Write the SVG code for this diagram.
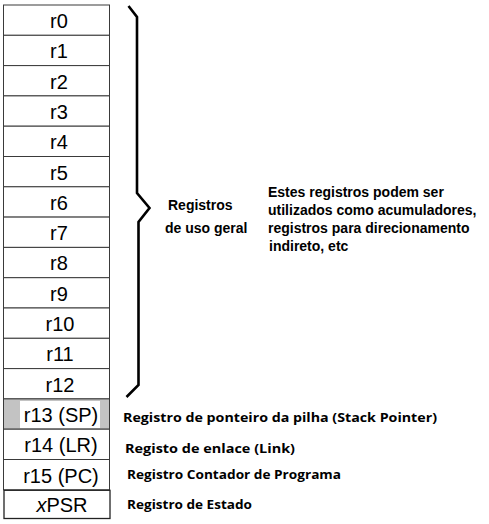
<svg xmlns="http://www.w3.org/2000/svg" width="489" height="524" viewBox="0 0 489 524">
<style>
.reg{fill:#ffffff;stroke:#3a3a3a;stroke-width:1}
.rt{font-family:"Liberation Sans",Arial,sans-serif;font-size:20px;fill:#000;text-anchor:middle}
.lb{font-family:"Liberation Sans",Arial,sans-serif;font-size:14px;font-weight:bold;fill:#000}
.lb2{font-family:"Open Sans","Noto Sans",sans-serif;font-size:13px;font-weight:bold;fill:#000}
.brace{fill:none;stroke:#000;stroke-width:2.6;stroke-linejoin:miter}
</style>
<rect width="489" height="524" fill="#ffffff"/>
<g id="registers">
<g id="r0"><rect class="reg" x="3.5" y="5" width="106" height="30.3"/><text class="rt" x="59" y="28">r0</text></g>
<g id="r1"><rect class="reg" x="3.5" y="35.3" width="106" height="30.3"/><text class="rt" x="59" y="58.3">r1</text></g>
<g id="r2"><rect class="reg" x="3.5" y="65.6" width="106" height="30.3"/><text class="rt" x="59" y="88.6">r2</text></g>
<g id="r3"><rect class="reg" x="3.5" y="95.9" width="106" height="30.3"/><text class="rt" x="59" y="118.9">r3</text></g>
<g id="r4"><rect class="reg" x="3.5" y="126.2" width="106" height="30.3"/><text class="rt" x="59" y="149.2">r4</text></g>
<g id="r5"><rect class="reg" x="3.5" y="156.5" width="106" height="30.3"/><text class="rt" x="59" y="179.5">r5</text></g>
<g id="r6"><rect class="reg" x="3.5" y="186.8" width="106" height="30.3"/><text class="rt" x="59" y="209.8">r6</text></g>
<g id="r7"><rect class="reg" x="3.5" y="217.1" width="106" height="30.3"/><text class="rt" x="59" y="240.1">r7</text></g>
<g id="r8"><rect class="reg" x="3.5" y="247.4" width="106" height="30.3"/><text class="rt" x="59" y="270.4">r8</text></g>
<g id="r9"><rect class="reg" x="3.5" y="277.7" width="106" height="30.3"/><text class="rt" x="59" y="300.7">r9</text></g>
<g id="r10"><rect class="reg" x="3.5" y="308" width="106" height="30.3"/><text class="rt" x="60" y="331">r10</text></g>
<g id="r11"><rect class="reg" x="3.5" y="338.3" width="106" height="30.3"/><text class="rt" x="60" y="361.3">r11</text></g>
<g id="r12"><rect class="reg" x="3.5" y="368.6" width="106" height="30.3"/><text class="rt" x="60" y="391.6">r12</text></g>
<g id="r13"><rect class="reg" x="3.5" y="398.9" width="106" height="30.3" style="fill:#c3c3c3"/><rect x="20" y="401" width="80" height="27" fill="#ffffff"/><text class="rt" x="61" y="422.2">r13 (SP)</text></g>
<g id="r14"><rect class="reg" x="3.5" y="429.2" width="106" height="30.3"/><text class="rt" x="61" y="452.4">r14 (LR)</text></g>
<g id="r15"><rect class="reg" x="3.5" y="459.5" width="106" height="30.3"/><text class="rt" x="61" y="482.5">r15 (PC)</text></g>
<g id="xpsr"><rect class="reg" x="4" y="490.3" width="106" height="28.2" style="stroke:#222;stroke-width:1.3"/><text class="rt" x="62" y="511.7"><tspan font-style="italic">x</tspan>PSR</text></g>
</g>
<g id="connectors">
<path class="brace" d="M128.5,6 L137,17 L137,193 L149.5,208 L138.5,222 L138.5,385 L126.5,397"/>
</g>
<g id="label-general">
<text class="lb" x="168" y="210">Registros</text>
<text class="lb" x="165" y="233">de uso geral</text>
</g>
<g id="label-desc">
<text class="lb" x="268" y="197">Estes registros podem ser</text>
<text class="lb" x="268" y="215">utilizados como acumuladores,</text>
<text class="lb" x="268" y="233">registros para direcionamento</text>
<text class="lb" x="269" y="251">indireto, etc</text>
</g>
<g id="label-sp"><text class="lb2" x="123" y="421.5" textLength="314" lengthAdjust="spacingAndGlyphs">Registro de ponteiro da pilha (Stack Pointer)</text></g>
<g id="label-lr"><text class="lb2" x="125" y="453" textLength="170" lengthAdjust="spacingAndGlyphs">Registo de enlace (Link)</text></g>
<g id="label-pc"><text class="lb2" x="127" y="479" textLength="214" lengthAdjust="spacingAndGlyphs">Registro Contador de Programa</text></g>
<g id="label-psr"><text class="lb2" x="127" y="509" textLength="125" lengthAdjust="spacingAndGlyphs">Registro de Estado</text></g>
</svg>
